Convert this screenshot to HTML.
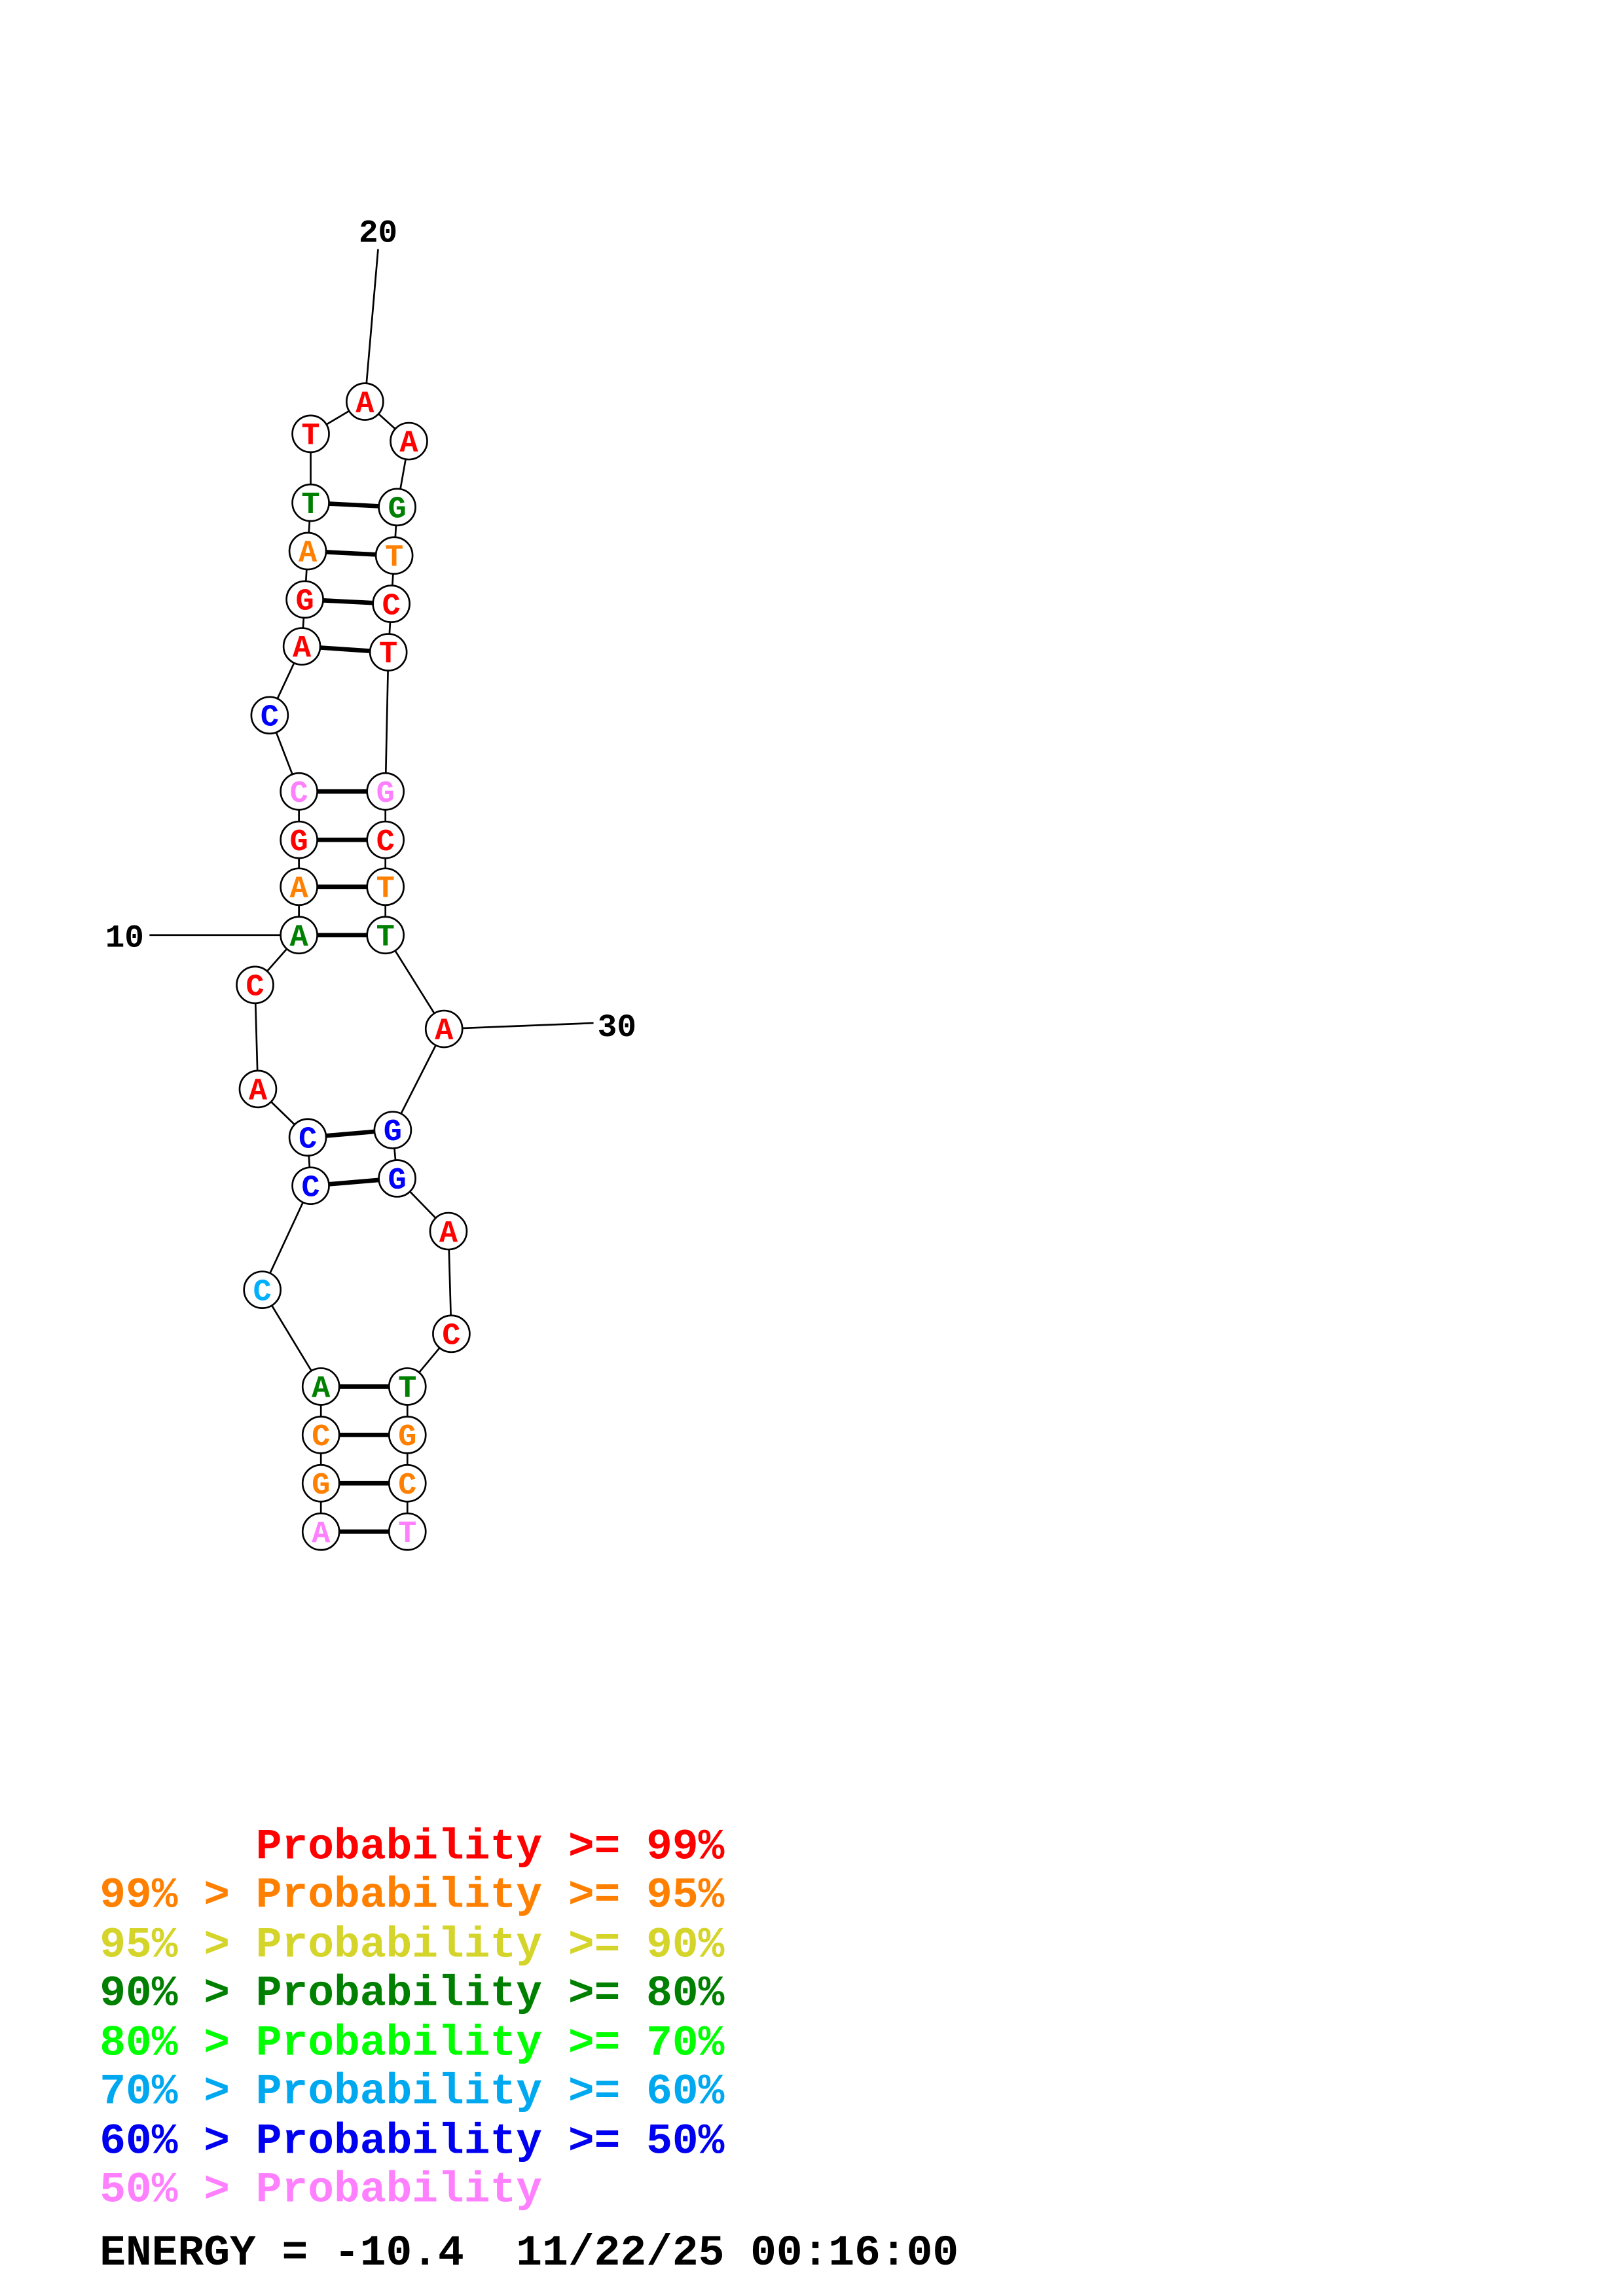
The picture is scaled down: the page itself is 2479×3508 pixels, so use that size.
<!DOCTYPE html>
<html><head><meta charset="utf-8"><style>html,body{margin:0;padding:0;background:#fff}svg{display:block}text{white-space:pre}</style></head>
<body>
<svg xmlns="http://www.w3.org/2000/svg" width="2479" height="3508" viewBox="0 0 1107.5 1566.5" preserveAspectRatio="none">
<rect width="1107.5" height="1566.5" fill="#fff"/>
<g stroke="#000" stroke-width="1.2" fill="none">
<line x1="258" y1="170" x2="249" y2="274"/>
<line x1="102" y1="638" x2="204" y2="638"/>
<line x1="303" y1="702" x2="405" y2="698"/>
<polyline points="219,1045 219,1012 219,979 219,946 179,880 212,809 210,776 176,743 174,672 204,638 204,605 204,573 204,540 184,488 206,441 208,409 210,376 212,343 212,296 249,274 279,301 271,346 269,379 267,412 265,445 263,540 263,573 263,605 263,638 303,702 268,771 271,804 306,840 308,910 278,946 278,979 278,1012 278,1045"/>
</g>
<g stroke="#000" stroke-width="3">
<line x1="212" y1="343" x2="271" y2="346"/>
<line x1="210" y1="376" x2="269" y2="379"/>
<line x1="208" y1="409" x2="267" y2="412"/>
<line x1="206" y1="441" x2="265" y2="445"/>
<line x1="204" y1="540" x2="263" y2="540"/>
<line x1="204" y1="573" x2="263" y2="573"/>
<line x1="204" y1="605" x2="263" y2="605"/>
<line x1="204" y1="638" x2="263" y2="638"/>
<line x1="210" y1="776" x2="268" y2="771"/>
<line x1="212" y1="809" x2="271" y2="804"/>
<line x1="219" y1="946" x2="278" y2="946"/>
<line x1="219" y1="979" x2="278" y2="979"/>
<line x1="219" y1="1012" x2="278" y2="1012"/>
<line x1="219" y1="1045" x2="278" y2="1045"/>
</g>
<g stroke="#000" stroke-width="1.2" fill="#fff">
<circle cx="249" cy="274" r="12.5"/><circle cx="212" cy="296" r="12.5"/><circle cx="279" cy="301" r="12.5"/>
<circle cx="212" cy="343" r="12.5"/><circle cx="271" cy="346" r="12.5"/>
<circle cx="210" cy="376" r="12.5"/><circle cx="269" cy="379" r="12.5"/>
<circle cx="208" cy="409" r="12.5"/><circle cx="267" cy="412" r="12.5"/>
<circle cx="206" cy="441" r="12.5"/><circle cx="265" cy="445" r="12.5"/>
<circle cx="184" cy="488" r="12.5"/>
<circle cx="204" cy="540" r="12.5"/><circle cx="263" cy="540" r="12.5"/>
<circle cx="204" cy="573" r="12.5"/><circle cx="263" cy="573" r="12.5"/>
<circle cx="204" cy="605" r="12.5"/><circle cx="263" cy="605" r="12.5"/>
<circle cx="204" cy="638" r="12.5"/><circle cx="263" cy="638" r="12.5"/>
<circle cx="174" cy="672" r="12.5"/><circle cx="303" cy="702" r="12.5"/>
<circle cx="176" cy="743" r="12.5"/>
<circle cx="210" cy="776" r="12.5"/><circle cx="268" cy="771" r="12.5"/>
<circle cx="212" cy="809" r="12.5"/><circle cx="271" cy="804" r="12.5"/>
<circle cx="306" cy="840" r="12.5"/><circle cx="179" cy="880" r="12.5"/><circle cx="308" cy="910" r="12.5"/>
<circle cx="219" cy="946" r="12.5"/><circle cx="278" cy="946" r="12.5"/>
<circle cx="219" cy="979" r="12.5"/><circle cx="278" cy="979" r="12.5"/>
<circle cx="219" cy="1012" r="12.5"/><circle cx="278" cy="1012" r="12.5"/>
<circle cx="219" cy="1045" r="12.5"/><circle cx="278" cy="1045" r="12.5"/>
</g>
<g font-family="Liberation Mono, monospace" font-weight="bold" font-size="21" text-anchor="middle">
<text x="249" y="281" fill="#f00">A</text><text x="212" y="303" fill="#f00">T</text><text x="279" y="308" fill="#f00">A</text>
<text x="212" y="350" fill="#008000">T</text><text x="271" y="353" fill="#008000">G</text>
<text x="210" y="383" fill="#ff8000">A</text><text x="269" y="386" fill="#ff8000">T</text>
<text x="208" y="416" fill="#f00">G</text><text x="267" y="419" fill="#f00">C</text>
<text x="206" y="448" fill="#f00">A</text><text x="265" y="452" fill="#f00">T</text>
<text x="184" y="495" fill="#00f">C</text>
<text x="204" y="547" fill="#ff80ff">C</text><text x="263" y="547" fill="#ff80ff">G</text>
<text x="204" y="580" fill="#f00">G</text><text x="263" y="580" fill="#f00">C</text>
<text x="204" y="612" fill="#ff8000">A</text><text x="263" y="612" fill="#ff8000">T</text>
<text x="204" y="645" fill="#008000">A</text><text x="263" y="645" fill="#008000">T</text>
<text x="174" y="679" fill="#f00">C</text><text x="303" y="709" fill="#f00">A</text>
<text x="176" y="750" fill="#f00">A</text>
<text x="210" y="783" fill="#00f">C</text><text x="268" y="778" fill="#00f">G</text>
<text x="212" y="816" fill="#00f">C</text><text x="271" y="811" fill="#00f">G</text>
<text x="306" y="847" fill="#f00">A</text><text x="179" y="887" fill="#00b0ff">C</text><text x="308" y="917" fill="#f00">C</text>
<text x="219" y="953" fill="#008000">A</text><text x="278" y="953" fill="#008000">T</text>
<text x="219" y="986" fill="#ff8000">C</text><text x="278" y="986" fill="#ff8000">G</text>
<text x="219" y="1019" fill="#ff8000">G</text><text x="278" y="1019" fill="#ff8000">C</text>
<text x="219" y="1052" fill="#ff80ff">A</text><text x="278" y="1052" fill="#ff80ff">T</text>
</g>
<g font-family="Liberation Mono, monospace" font-weight="bold" font-size="22" fill="#000">
<text x="258" y="165" text-anchor="middle">20</text>
<text x="85" y="646" text-anchor="middle">10</text>
<text x="421" y="707" text-anchor="middle">30</text>
</g>
<g font-family="Liberation Mono, monospace" font-weight="bold" font-size="29.6">
<text x="68" y="1268" fill="#f00">      Probability &gt;= 99%</text>
<text x="68" y="1301" fill="#ff8000">99% &gt; Probability &gt;= 95%</text>
<text x="68" y="1335" fill="#d4d42a">95% &gt; Probability &gt;= 90%</text>
<text x="68" y="1368" fill="#008000">90% &gt; Probability &gt;= 80%</text>
<text x="68" y="1402" fill="#00ff00">80% &gt; Probability &gt;= 70%</text>
<text x="68" y="1435" fill="#00a8f0">70% &gt; Probability &gt;= 60%</text>
<text x="68" y="1469" fill="#0000f0">60% &gt; Probability &gt;= 50%</text>
<text x="68" y="1502" fill="#ff80ff">50% &gt; Probability</text>
<text x="68" y="1545" fill="#000">ENERGY = -10.4  11/22/25 00:16:00</text>
</g>
</svg>
</body></html>
